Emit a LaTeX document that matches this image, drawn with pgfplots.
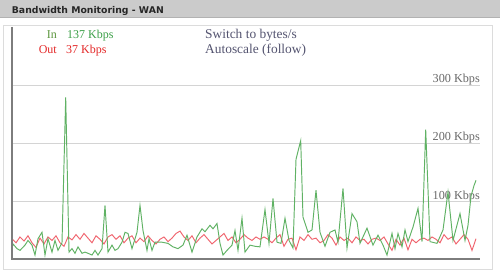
\documentclass[border=0pt]{standalone}
\usepackage{pgfplots}
\pgfplotsset{compat=1.18}
\usepackage{pgfplotstable}
\usepackage{fontspec}
\setmainfont{Liberation Serif}
\newfontfamily\hdrfont{DejaVu Sans}
\definecolor{ingreen}{RGB}{96,178,100}
\definecolor{outred}{RGB}{240,100,110}
\definecolor{intext}{RGB}{92,150,62}
\definecolor{invalue}{RGB}{60,160,72}
\definecolor{outtext}{RGB}{228,40,40}
\definecolor{linktext}{RGB}{84,84,112}
\definecolor{gridgray}{RGB}{212,212,212}
\definecolor{labgray}{RGB}{105,105,105}
\definecolor{axgray}{RGB}{125,125,125}
\definecolor{hdrgray}{RGB}{203,203,203}
\definecolor{panelgray}{RGB}{220,220,220}

\pgfplotstableread{
x y
0 20
1 28
5 20
8 17
13 26
16 34
20 26
23 9
26 37
30 48
33 9
36 37
40 14
43 34
46 17
50 30
53.7 279
57 14
60 20
63 12
66 23
70 12
73 14
76 12
80 9
83 17
86 9
90 20
93 94
96 14
100 26
103 17
106 20
110 31
113 48
116 46
120 20
125 48
128 94
131 51
135 17
137 37
140 17
143 31
150 31
156 29
161 23
166 20
171 26
175 43
180 14
185 40
190 54
193 49
198 60
201 54
205 63
208 29
211 9
215 17
220 26
223 51
226 17
230 72
233 14
238 26
243 24
248 23
253 87
257 29
261 106
265 31
269 29
273 72
277 34
281 21
284 173
288.7 205
291 74
296 48
300 52
304 120
308 48
313 24
318 48
323 52
326 31
331 123
335 21
340 80
345 66
348 29
355 55
361 26
366 43
371 26
375 9
380 46
383 20
386 46
390 23
393 52
396 32
401 57
406 89
410 32
413.7 224
418 32
425 29
431 52
436 117
441 34
448 80
453 34
456 60
459 110
462 128
464 137
}\intable

\pgfplotstableread{
x y
0 37
4 30
8 40
12 33
16 42
20 30
24 22
28 38
32 28
36 40
40 34
44 42
48 30
52 24
56 40
60 35
64 44
68 36
72 46
76 38
80 30
84 42
88 36
92 28
96 40
100 44
104 36
108 42
112 30
116 38
120 42
124 30
128 38
132 32
136 42
140 34
144 28
148 36
152 40
156 32
160 38
164 46
168 50
172 40
176 34
180 42
184 30
188 38
192 44
196 36
200 28
204 34
208 40
212 46
216 34
220 40
224 30
228 36
232 44
236 38
240 34
244 40
248 36
252 40
256 36
260 30
264 38
268 44
272 24
276 36
280 38
284 18
288 40
292 34
296 44
300 36
304 38
308 30
312 34
316 44
320 38
324 26
328 40
332 34
336 38
340 30
344 40
348 34
352 36
356 28
360 36
364 38
368 34
372 40
376 28
380 17
384 36
388 26
392 38
396 18
400 36
404 30
408 36
412 38
416 34
420 40
424 36
428 30
432 44
436 36
440 40
444 28
448 36
452 44
456 36
460 17
464 37
}\outtable

\begin{document}
\begin{tikzpicture}
% page frame
\useasboundingbox (0pt,0pt) rectangle (500pt,272pt);
\fill[white] (0pt,0pt) rectangle (500pt,272pt);
% header bar
\fill[hdrgray] (0pt,254.5pt) rectangle (500pt,272pt);
\draw[gray!60, line width=0.6pt] (0pt,254.3pt) -- (500pt,254.3pt);
\node[anchor=base west, inner sep=0pt, text=black!85] at (11.7pt,258pt)
  {\hdrfont\bfseries\fontsize{9.3pt}{11pt}\selectfont Bandwidth Monitoring - WAN};
% panel
\draw[panelgray, line width=1pt] (3.3pt,2.3pt) rectangle (492.5pt,246pt);
% legend texts
\node[anchor=base east, inner sep=0pt, text=intext] at (57pt,233.5pt)
  {\fontsize{12pt}{14pt}\selectfont In};
\node[anchor=base west, inner sep=0pt, text=invalue] at (67pt,233.5pt)
  {\fontsize{12pt}{14pt}\selectfont 137 Kbps};
\node[anchor=base east, inner sep=0pt, text=outtext] at (57pt,218.5pt)
  {\fontsize{12pt}{14pt}\selectfont Out};
\node[anchor=base west, inner sep=0pt, text=outtext] at (66pt,218.5pt)
  {\fontsize{12pt}{14pt}\selectfont 37 Kbps};
\node[anchor=base west, inner sep=0pt, text=linktext] at (205pt,233.5pt)
  {\fontsize{13.4pt}{16pt}\selectfont Switch to bytes/s};
\node[anchor=base west, inner sep=0pt, text=linktext] at (205pt,218.5pt)
  {\fontsize{13.4pt}{16pt}\selectfont Autoscale (follow)};
% grid labels
\node[anchor=base east, inner sep=0pt, text=labgray] at (480pt,189pt)
  {\fontsize{12.2pt}{14pt}\selectfont 300 Kbps};
\node[anchor=base east, inner sep=0pt, text=labgray] at (480pt,131pt)
  {\fontsize{12.2pt}{14pt}\selectfont 200 Kbps};
\node[anchor=base east, inner sep=0pt, text=labgray] at (480pt,72.5pt)
  {\fontsize{12.2pt}{14pt}\selectfont 100 Kbps};
\begin{axis}[
  at={(12pt,11.7pt)}, anchor=origin,
  scale only axis, width=468pt, height=232.3pt,
  xmin=0, xmax=468, ymin=0, ymax=398,
  axis line style={draw=none},
  xtick=\empty, ytick={100,200,300}, yticklabels={}, major tick length=0pt,
  ymajorgrids, grid style={gridgray, line width=1pt},
]
\addplot[outred, line width=0.95pt] table[x=x,y=y] {\outtable};
\addplot[ingreen, line width=0.95pt] table[x=x,y=y] {\intable};
\end{axis}
% axis lines
\draw[axgray, line width=1.6pt] (11.7pt,245pt) -- (11.7pt,12pt);
\draw[axgray, line width=2pt] (11pt,12.7pt) -- (480pt,12.7pt);
\end{tikzpicture}
\end{document}
